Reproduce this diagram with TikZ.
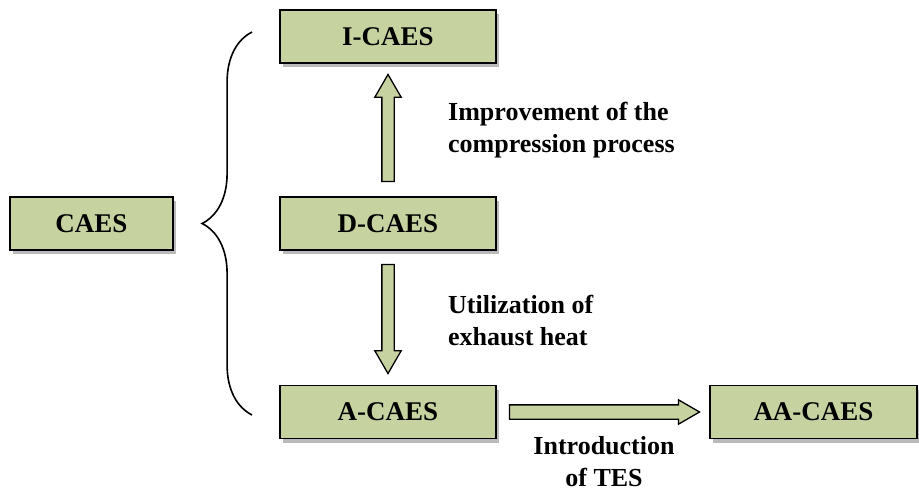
\documentclass[tikz,border=0pt]{standalone}
\usepackage{fontspec}
\setmainfont{Liberation Serif}
\usetikzlibrary{shapes.arrows, shadows, decorations.pathreplacing, calc}

\definecolor{boxgreen}{RGB}{198,210,160}

\tikzset{
  stagebox/.style = {draw, line width=1.8pt, fill=boxgreen, minimum height=53pt,
    font=\fontsize{27}{30}\selectfont\bfseries,
    drop shadow={shadow xshift=3pt, shadow yshift=-4pt, fill=black!60, opacity=0.45}},
  bigarrow/.style = {single arrow, draw, line width=1.3pt, fill=boxgreen, inner xsep=0pt,
    single arrow tip angle=60, anchor=tail},
  steplabel/.style = {inner sep=0pt, font=\fontsize{26}{32}\selectfont\bfseries}
}

\begin{document}
\begin{tikzpicture}[x = 1pt, y = -1pt]
        \useasboundingbox (0,0) rectangle (919,492);

        \node[stagebox, minimum width=163pt] (caes) at (91.5,223.5) {CAES};
        \node[stagebox, minimum width=216pt] (icaes) at (388,36.5) {I-CAES};
        \node[stagebox, minimum width=216pt] (dcaes) at (388,223.5) {D-CAES};
        \node[stagebox, minimum width=216pt] (acaes) at (388,412) {A-CAES};
        \node[stagebox, minimum width=207pt] (aacaes) at (813.5,412) {AA-CAES};

        % block arrows between the stages
        \node[bigarrow, rotate=90, inner ysep=5.5pt, single arrow head extend=7pt, minimum height=107pt]
          (up) at ([yshift=14pt]dcaes.north) {};
        \node[bigarrow, rotate=-90, inner ysep=5.5pt, single arrow head extend=7pt, minimum height=109pt]
          (down) at ([yshift=-13pt]dcaes.south) {};
        \node[bigarrow, inner ysep=6.5pt, single arrow head extend=5pt, minimum height=190pt]
          (right) at ([xshift=12pt]acaes.east) {};

        % brace
        \coordinate (bracetop) at ($(icaes.west)+(-27,-4.5)$);
        \coordinate (bracebot) at ($(acaes.west)+(-27,3)$);
        \draw[line width=1.6pt, decorate, decoration={brace, amplitude=50pt}] (bracebot) -- (bracetop);

        \node[steplabel, anchor=west, align=left] (improve) at (448,130) {Improvement of the\\compression process};
        \node[steplabel, anchor=west, align=left] (utilize) at (448,321) {Utilization of\\exhaust heat};
        \node[steplabel, align=center] (intro) at (604,462) {Introduction\\of TES};
      \end{tikzpicture}
\end{document}
